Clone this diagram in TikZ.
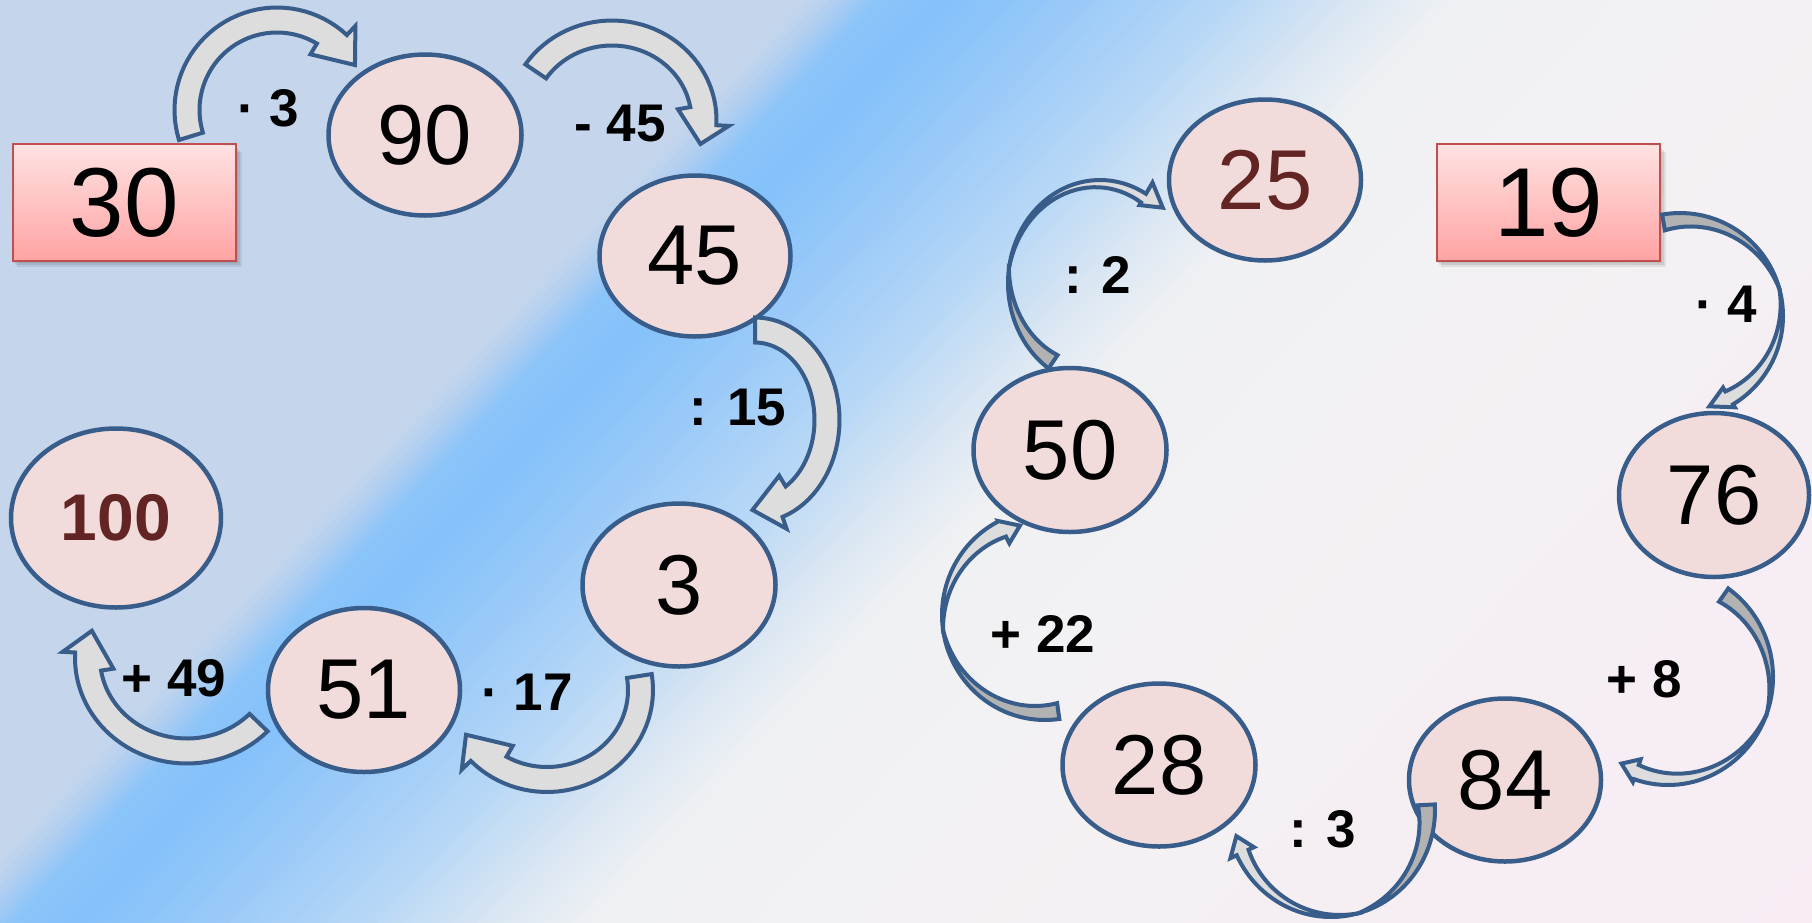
\documentclass[tikz,border=0pt]{standalone}
\usepackage{fontspec}
\setmainfont{Liberation Sans}
\usetikzlibrary{shapes.geometric}
\definecolor{g0}{HTML}{C3D5EB}
\definecolor{g1}{HTML}{C4D6EC}
\definecolor{g2}{HTML}{B0CEF1}
\definecolor{g3}{HTML}{8CC4F9}
\definecolor{g4}{HTML}{84C1FA}
\definecolor{g5}{HTML}{9BCAF8}
\definecolor{g6}{HTML}{B8D8F6}
\definecolor{g7}{HTML}{D9E6F3}
\definecolor{g8}{HTML}{F0F1F3}
\definecolor{g9}{HTML}{F3F1F3}
\definecolor{g10}{HTML}{F8ECF5}
\definecolor{nodefill}{HTML}{F2DCDB}
\definecolor{nodeblue}{HTML}{385D8A}
\definecolor{arrlight}{HTML}{DDDDDD}
\definecolor{arrdark}{HTML}{B2B2B2}
\definecolor{boxtop}{HTML}{FFE2E2}
\definecolor{boxbot}{HTML}{FFA3A3}
\definecolor{boxborder}{HTML}{C0504D}
\definecolor{darkred}{HTML}{632523}
\tikzset{
  ell/.style={ellipse, draw=nodeblue, line width=4.5pt, fill=nodefill, inner sep=0pt,
    font=\fontsize{85}{85}\selectfont},
  boxn/.style={rectangle, draw=boxborder, line width=2pt, top color=boxtop, bottom color=boxbot,
    minimum width=223pt, minimum height=117pt, inner sep=0pt, font=\fontsize{98}{98}\selectfont},
  lbl/.style={inner sep=0pt, font=\bfseries\fontsize{53}{53}\selectfont},
  barr/.style={draw=nodeblue, line width=4pt, fill=arrlight, line join=miter, miter limit=4},
  tarr/.style={draw=nodeblue, line width=4pt, line join=miter, miter limit=4}
}
% band arrow: cx cy rx ry a1 aout ain tip
\newcommand\bandarrow[8]{%
  \filldraw[barr] plot[domain=#5:#6, samples=40, variable=\t]
      ({#1+(#3+12.5)*cos(\t)},{#2+(#4+12.5)*sin(\t)})
    -- ({#1+(#3+25)*cos(#6)},{#2+(#4+25)*sin(#6)})
    -- ({#1+#3*cos(#8)},{#2+#4*sin(#8)})
    -- ({#1+(#3-25)*cos(#7)},{#2+(#4-25)*sin(#7)})
    -- plot[domain=#7:#5, samples=40, variable=\t]
      ({#1+(#3-12.5)*cos(\t)},{#2+(#4-12.5)*sin(\t)})
    -- cycle;}
% twisted arrow: cx cy rx ry a0 atwist ahead tip ; uses \twT \twL \twH \twC
\newcommand\twarrow[8]{%
  \filldraw[tarr, fill=arrdark] plot[domain=#5:#6, samples=30, variable=\t]
      ({#1+#3*cos(\t)},{#2+#4*sin(\t)})
    -- plot[domain=#6:#5, samples=30, variable=\t]
      ({#1+(#3-\twT*((#6)-\t)/((#6)-(#5)))*cos(\t)},{#2+(#4-\twT*((#6)-\t)/((#6)-(#5)))*sin(\t)})
    -- cycle;
  \filldraw[tarr, fill=arrlight] plot[domain=#6:#7, samples=30, variable=\t]
      ({#1+#3*cos(\t)},{#2+#4*sin(\t)})
    -- ({#1+(#3+\twC+\twH)*cos(#7)},{#2+(#4+\twC+\twH)*sin(#7)})
    -- ({#1+(#3+\twC)*cos(#8)},{#2+(#4+\twC)*sin(#8)})
    -- ({#1+(#3+\twC-\twH)*cos(#7)},{#2+(#4+\twC-\twH)*sin(#7)})
    -- plot[domain=#7:#6, samples=30, variable=\t]
      ({#1+(#3-\twL*(\t-(#6))/((#7)-(#6)))*cos(\t)},{#2+(#4-\twL*(\t-(#6))/((#7)-(#6)))*sin(\t)})
    -- cycle;}
\begin{document}
\begin{tikzpicture}[x=1pt,y=-1pt]
\useasboundingbox (0,0) rectangle (1812,922);
% background
\begin{scope}
\clip (0,0) rectangle (1812,922);
\foreach \ta/\tb/\ca/\cb/\nn in {-10/585/g0/g1/1, 585/612/g1/g2/4, 612/640/g2/g3/5, 640/690/g3/g4/8, 690/790/g4/g5/12, 790/900/g5/g6/14, 900/985/g6/g7/14, 985/1065/g7/g8/14, 1065/1300/g8/g9/10, 1300/1975/g9/g10/30}{
  \foreach \i in {1,...,\nn}{
    \pgfmathsetmacro\sA{\ta+(\tb-\ta)/\nn*(\i-1)}
    \pgfmathsetmacro\sB{\ta+(\tb-\ta)/\nn*\i+1.5}
    \pgfmathtruncatemacro\pp{100*(\i-0.5)/\nn}
    \colorlet{stripc}{\cb!\pp!\ca}
    \fill[stripc] ({0.73*\sA+889.2},{0.684*\sA-949}) -- ({0.73*\sB+889.2},{0.684*\sB-949})
      -- ({0.73*\sB-513},{0.684*\sB+547.5}) -- ({0.73*\sA-513},{0.684*\sA+547.5}) -- cycle;
  }
}
\end{scope}
% box shadows
\foreach \d in {1,3,5}{
  \fill[black,opacity=0.08] ({12+\d},{147+\d}) rectangle ({237+\d},{262+\d});
  \fill[black,opacity=0.08] ({1436+\d},{147+\d}) rectangle ({1661+\d},{262+\d});
}
% boxes
\node[boxn] (b30) at (124.5,202.5) {30};
\node[boxn] (b19) at (1548.5,202.5) {19};
% ellipses
\node[ell, minimum width=193pt, minimum height=161pt] (n90) at (425,135) {90};
\node[ell, minimum width=191pt, minimum height=161pt] (n45) at (695,256) {45};
\node[ell, minimum width=193pt, minimum height=163pt] (n3) at (679,585) {3};
\node[ell, minimum width=192pt, minimum height=164pt] (n51) at (364,690) {51};
\node[ell, minimum width=210pt, minimum height=179pt, font=\bfseries\fontsize{66}{66}\selectfont, text=darkred] (n100) at (116,518) {100};
\node[ell, minimum width=192pt, minimum height=161pt, text=darkred] (n25) at (1265,180) {25};
\node[ell, minimum width=193pt, minimum height=164pt] (n50) at (1070,450) {50};
\node[ell, minimum width=190pt, minimum height=164pt] (n76) at (1714,495) {76};
\node[ell, minimum width=193pt, minimum height=163pt] (n28) at (1159,765) {28};
\node[ell, minimum width=192pt, minimum height=163pt] (n84) at (1505,780) {84};
% left arrows
\bandarrow{277}{110}{90}{90}{163}{313}{301}{330}
\bandarrow{612}{120}{92}{87}{214}{363}{350}{376}
\bandarrow{755}{420}{72}{90}{-90}{71}{59}{92}
\bandarrow{547}{690}{93.5}{89.5}{-9}{136}{120}{150}
\bandarrow{187}{658}{99.5}{93}{44}{183}{171}{197}
% right arrows
\def\twT{16}\def\twL{10}\def\twH{13}\def\twC{0}
\twarrow{1100}{283}{92}{103}{124}{188}{300}{313}
\def\twT{16}\def\twL{15}\def\twH{11.5}\def\twC{(-8)}
\twarrow{1680}{316}{103}{103}{-100}{-15}{59}{72}
\def\twT{16}\def\twL{17}\def\twH{12.5}\def\twC{(-12)}
\twarrow{1045}{615}{103}{105}{82}{172}{243}{254}
\def\twT{16}\def\twL{15}\def\twH{12}\def\twC{(-9)}
\twarrow{1668}{677}{105}{108}{-55}{20}{109}{119}
\def\twT{17}\def\twL{13}\def\twH{13}\def\twC{(-6)}
\twarrow{1331}{810}{104}{107}{-3}{75}{155}{165}
% labels
\node[lbl] (l1) at (268,108) {· 3};
\node[lbl] (l2) at (620,124) {- 45};
\node[lbl] (l3) at (738,408) {: 15};
\node[lbl] (l4) at (527,692) {· 17};
\node[lbl] (l5) at (174,678) {+ 49};
\node[lbl] (l6) at (1098,275) {: 2};
\node[lbl] (l7) at (1726,304) {· 4};
\node[lbl] (l8) at (1043,634) {+ 22};
\node[lbl] (l9) at (1644,679) {+ 8};
\node[lbl] (l10) at (1323,829) {: 3};
\end{tikzpicture}
\end{document}
